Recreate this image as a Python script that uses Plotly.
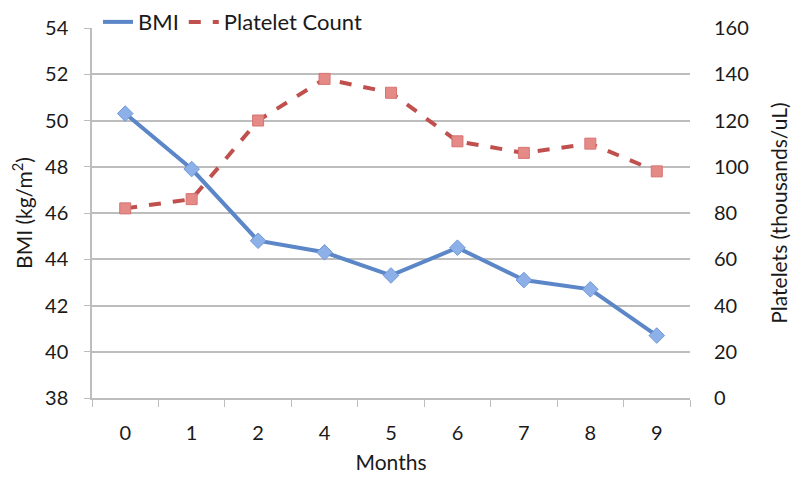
import plotly.graph_objects as go

months = ["0", "1", "2", "4", "5", "6", "7", "8", "9"]
bmi = [50.3, 47.9, 44.8, 44.3, 43.3, 44.5, 43.1, 42.7, 40.7]
platelets = [82, 86, 120, 138, 132, 111, 106, 110, 98]

left_ticks = [38, 40, 42, 44, 46, 48, 50, 52, 54]
right_ticks = [0, 20, 40, 60, 80, 100, 120, 140, 160]

FONT = "Lato"
grid = "#BDBDBD"
blue = "#5B86C8"
red = "#C0504D"

fig = go.Figure()
fig.add_trace(go.Scatter(
    x=months, y=bmi, name="BMI", mode="lines+markers", showlegend=False,
    line=dict(color=blue, width=4),
    marker=dict(symbol="diamond", size=12, color="#8DB0E8",
                line=dict(color="#6F98D8", width=1)),
))
fig.add_trace(go.Scatter(
    x=months, y=platelets, name="Platelet Count", mode="lines+markers",
    yaxis="y2", showlegend=False,
    line=dict(color=red, width=4, dash="dash"),
    marker=dict(symbol="square", size=11, color="#E48A87",
                line=dict(color="#D87370", width=1)),
))
# legend entries (line samples only, as in the reference)
fig.add_trace(go.Scatter(x=[None], y=[None], name="BMI", mode="lines",
                         line=dict(color=blue, width=4)))
fig.add_trace(go.Scatter(x=[None], y=[None], name="Platelet Count", mode="lines",
                         yaxis="y2", line=dict(color=red, width=4, dash="dash")))

fig.update_layout(
    width=800, height=480,
    margin=dict(l=84, r=118, t=20, b=90, autoexpand=False),
    paper_bgcolor="white", plot_bgcolor="white",
    font=dict(family=FONT, size=20, color="#1a1a1a"),
    showlegend=True,
    legend=dict(orientation="h", x=0.01, xanchor="left", y=1.016, yanchor="middle",
                font=dict(size=22), traceorder="normal",
                itemwidth=30, tracegroupgap=0, borderwidth=0,
                bgcolor="rgba(0,0,0,0)"),
    xaxis=dict(
        type="category", range=[-0.5, 8.5],
        title=dict(text="Months", standoff=13, font=dict(size=21)),
        showline=True, linecolor=grid, linewidth=1.5,
        ticks="outside", tickson="boundaries", ticklen=7, tickcolor=grid,
        ticklabelstandoff=16,
        tickfont=dict(size=20),
        showgrid=False, zeroline=False,
    ),
    yaxis=dict(
        range=[38, 54], tickvals=left_ticks,
        title=dict(text="BMI (kg/m<sup>2</sup>)", standoff=12, font=dict(size=21)),
        showline=True, linecolor=grid, linewidth=1.5,
        ticks="outside", ticklen=6, tickcolor=grid,
        ticklabelstandoff=12,
        tickfont=dict(size=20),
        showgrid=True, gridcolor=grid, gridwidth=1.5, zeroline=False,
    ),
    yaxis2=dict(
        range=[0, 160], tickvals=right_ticks, overlaying="y", side="right",
        title=dict(text="Platelets (thousands/uL)", standoff=24, font=dict(size=21)),
        showline=False, showgrid=False, zeroline=False, ticks="",
        ticklabelstandoff=23,
        tickfont=dict(size=20),
    ),
)

fig.write_html("out.html")
